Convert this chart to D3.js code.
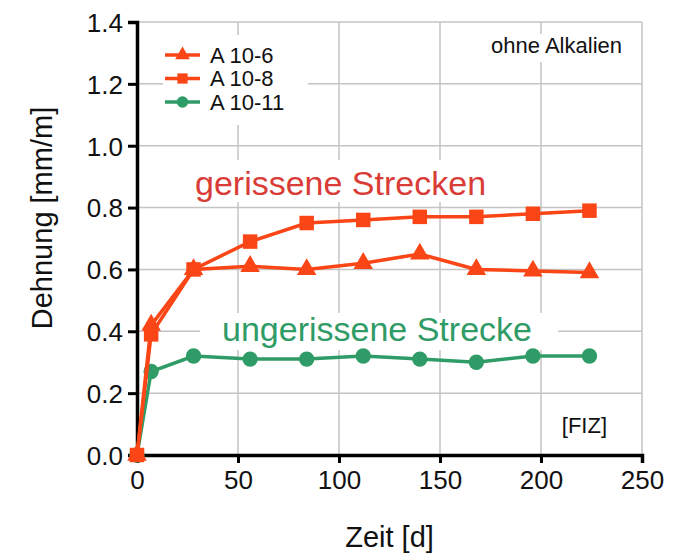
<!DOCTYPE html>
<html>
<head>
<meta charset="utf-8">
<script src="https://cdn.jsdelivr.net/npm/d3@7"></script>
<style>
  body { margin: 0; background: #fff; }
  svg { font-family: "Liberation Sans", Arial, sans-serif; }
</style>
</head>
<body>
<div id="chart"></div>
<script>
// Messwerte (Zeit in Tagen)
var days = [0, 7, 28, 56, 84, 112, 140, 168, 196, 224];
var a10_6 = [0, 0.42, 0.60, 0.61, 0.60, 0.62, 0.65, 0.60, 0.595, 0.59];
var a10_8 = [0, 0.39, 0.60, 0.69, 0.75, 0.76, 0.77, 0.77, 0.78, 0.79];
var a10_11 = [0, 0.27, 0.32, 0.31, 0.31, 0.32, 0.31, 0.30, 0.32, 0.32];
var seriesNames = ["A 10-6", "A 10-8", "A 10-11"];
var xTicks = [0, 50, 100, 150, 200, 250];
var yTicks = [0, 0.2, 0.4, 0.6, 0.8, 1.0, 1.2, 1.4];

var orange = "#fa4617";
var green = "#2f9b66";

var W = 675, H = 555;
var margin = {top: 22, right: 33, bottom: 100, left: 137};
var width = W - margin.left - margin.right;
var height = H - margin.top - margin.bottom;

var svg = d3.select("#chart").append("svg")
    .attr("width", W)
    .attr("height", H)
  .append("g")
    .attr("transform", "translate(" + margin.left + "," + margin.top + ")");

var x = d3.scaleLinear().domain([0, 250]).range([0, width]);
var y = d3.scaleLinear().domain([0, 1.4]).range([height, 0]);

// Gitter
svg.append("g").selectAll("line").data(xTicks.slice(1)).enter().append("line")
    .attr("x1", function(d) { return x(d); }).attr("x2", function(d) { return x(d); })
    .attr("y1", 0).attr("y2", height)
    .attr("stroke", "#c4c4c4").attr("stroke-width", 1.5);
svg.append("g").selectAll("line").data(yTicks.slice(1)).enter().append("line")
    .attr("x1", 0).attr("x2", width)
    .attr("y1", function(d) { return y(d); }).attr("y2", function(d) { return y(d); })
    .attr("stroke", "#c4c4c4").attr("stroke-width", 1.5);

// weisse Hintergruende der Beschriftungen
var boxes = [
  [163 - margin.left, 35 - margin.top, 145, 90],
  [480 - margin.left, 34 - margin.top, 150, 28],
  [190 - margin.left, 160 - margin.top, 305, 42],
  [200 - margin.left, 313 - margin.top, 358, 37]
];
svg.append("g").selectAll("rect").data(boxes).enter().append("rect")
    .attr("x", function(d) { return d[0]; }).attr("y", function(d) { return d[1]; })
    .attr("width", function(d) { return d[2]; }).attr("height", function(d) { return d[3]; })
    .attr("fill", "#fff");

// Achsen
var xAxis = svg.append("g")
    .attr("transform", "translate(0," + height + ")")
    .call(d3.axisBottom(x).tickValues(xTicks).tickSize(8).tickPadding(8).tickFormat(d3.format("d")));
var yAxis = svg.append("g")
    .call(d3.axisLeft(y).tickValues(yTicks).tickSize(9).tickPadding(5).tickFormat(d3.format(".1f")));
[xAxis, yAxis].forEach(function(a) {
  a.select(".domain").attr("stroke", "#000").attr("stroke-width", 3.5);
  a.selectAll(".tick line").attr("stroke", "#000").attr("stroke-width", 3);
  a.selectAll(".tick text").attr("fill", "#111").style("font-size", "26px");
});
yAxis.selectAll(".tick text").attr("dy", "0.36em");

// Achsentitel
svg.append("text")
    .attr("x", width / 2).attr("y", 547 - margin.top)
    .attr("text-anchor", "middle").style("font-size", "29px").attr("fill", "#111")
    .text("Zeit [d]");
svg.append("text")
    .attr("transform", "translate(" + (52 - margin.left) + "," + (218 - margin.top) + ") rotate(-90)")
    .attr("text-anchor", "middle").style("font-size", "29px").attr("fill", "#111")
    .text("Dehnung [mm/m]");

// Texte im Diagramm
svg.append("text").attr("x", 622 - margin.left).attr("y", 53 - margin.top)
    .attr("text-anchor", "end").style("font-size", "22px").attr("fill", "#111")
    .text("ohne Alkalien");
svg.append("text").attr("x", 607 - margin.left).attr("y", 433 - margin.top)
    .attr("text-anchor", "end").style("font-size", "22px").attr("fill", "#111")
    .text("[FIZ]");
svg.append("text").attr("x", 195 - margin.left).attr("y", 195 - margin.top)
    .style("font-size", "34px").attr("fill", "#d93c36")
    .text("gerissene Strecken");
svg.append("text").attr("x", 222 - margin.left).attr("y", 341 - margin.top)
    .style("font-size", "34px").attr("fill", green)
    .text("ungerissene Strecke");

// Reihen
var series = [
  {name: seriesNames[2], values: a10_11, color: green, symbol: d3.symbolCircle, size: 185},
  {name: seriesNames[1], values: a10_8, color: orange, symbol: d3.symbolSquare, size: 210},
  {name: seriesNames[0], values: a10_6, color: orange, symbol: d3.symbolTriangle, size: 165}
];

var line = d3.line()
    .x(function(d) { return x(d[0]); })
    .y(function(d) { return y(d[1]); });

series.forEach(function(s) {
  var pts = days.map(function(d, i) { return [d, s.values[i]]; });
  var g = svg.append("g");
  g.append("path")
      .attr("d", line(pts))
      .attr("fill", "none")
      .attr("stroke", s.color)
      .attr("stroke-width", 3.5);
  g.selectAll("path.pt").data(pts).enter().append("path")
      .attr("class", "pt")
      .attr("transform", function(d) { return "translate(" + x(d[0]) + "," + y(d[1]) + ")"; })
      .attr("d", d3.symbol().type(s.symbol).size(s.size))
      .attr("fill", s.color);
});

// Legende
var legend = svg.append("g").attr("transform", "translate(" + (165 - margin.left) + "," + (55 - margin.top) + ")");
var legendItems = [
  {name: seriesNames[0], color: orange, symbol: d3.symbolTriangle, size: 95},
  {name: seriesNames[1], color: orange, symbol: d3.symbolSquare, size: 105},
  {name: seriesNames[2], color: green, symbol: d3.symbolCircle, size: 105}
];
legendItems.forEach(function(it, i) {
  var row = legend.append("g").attr("transform", "translate(0," + (i * 23.5) + ")");
  row.append("line").attr("x1", 0).attr("x2", 35).attr("y1", 0).attr("y2", 0)
      .attr("stroke", it.color).attr("stroke-width", 3.5);
  row.append("path").attr("transform", "translate(17.5,0)")
      .attr("d", d3.symbol().type(it.symbol).size(it.size))
      .attr("fill", it.color);
  row.append("text").attr("x", 45).attr("y", 0).attr("dy", "0.36em")
      .style("font-size", "22px").attr("fill", "#111")
      .text(it.name);
});
</script>
</body>
</html>
